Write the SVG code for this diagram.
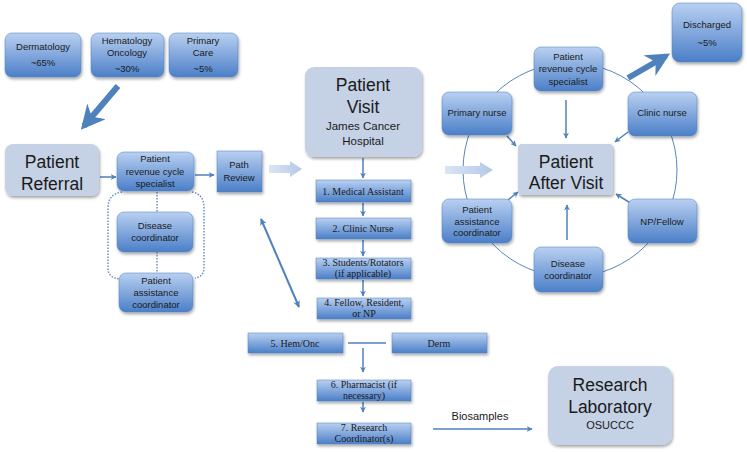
<svg xmlns="http://www.w3.org/2000/svg" width="747" height="452" viewBox="0 0 747 452">
<defs>
<linearGradient id="gb" x1="0" y1="0" x2="0" y2="1">
<stop offset="0" stop-color="#b9d0f1"/>
<stop offset="1" stop-color="#4b7fc8"/>
</linearGradient>
<linearGradient id="gl" x1="0" y1="0" x2="1" y2="0">
<stop offset="0" stop-color="#dbe5f4"/>
<stop offset="1" stop-color="#b3c8e8"/>
</linearGradient>
<filter id="sh" x="-20%" y="-20%" width="150%" height="150%">
<feDropShadow dx="1" dy="2" stdDeviation="1.5" flood-color="#000" flood-opacity="0.35"/>
</filter>
<marker id="ah" viewBox="0 0 10 10" refX="9" refY="5" markerWidth="7" markerHeight="7" markerUnits="userSpaceOnUse" orient="auto-start-reverse">
<path d="M0,0 L10,5 L0,10 L3,5 Z" fill="#4f81bd"/>
</marker>
<marker id="ahs" viewBox="0 0 10 10" refX="9" refY="5" markerWidth="6" markerHeight="6" markerUnits="userSpaceOnUse" orient="auto-start-reverse">
<path d="M0,0 L10,5 L0,10 L3,5 Z" fill="#4f81bd"/>
</marker>
<marker id="big" viewBox="0 0 10 10" refX="8" refY="5" markerWidth="4" markerHeight="4" orient="auto">
<path d="M0,0 L10,5 L0,10 L3,5 Z" fill="#4f81bd"/>
</marker>
</defs>
<style>
.b{fill:url(#gb);stroke:#4f81bd;stroke-width:0.5;filter:url(#sh)}
.g{fill:#c5d1e5;filter:url(#sh)}
.s{fill:url(#gb);stroke:#4f81bd;stroke-width:0.5;filter:url(#sh)}
.t{font-family:"Liberation Sans",Arial,sans-serif;font-size:9.5px;fill:#1a1a1a;text-anchor:middle}
.L{font-family:"Liberation Sans",Arial,sans-serif;font-size:17.5px;fill:#1a1a1a;text-anchor:middle}
.m{font-family:"Liberation Sans",Arial,sans-serif;font-size:11.5px;fill:#1a1a1a;text-anchor:middle}
.r{font-family:"Liberation Serif","Times New Roman",serif;font-size:10px;fill:#1a1a1a;text-anchor:middle}
.c{stroke:#4f81bd;stroke-width:1.5;fill:none}
.d{stroke:#6d8fbf;stroke-width:1.5;fill:none;stroke-dasharray:1.5 1.5}
.w{fill:url(#gl)}
</style>

<g id="circle"><circle cx="570" cy="170" r="107" fill="none" stroke="#5b84bd" stroke-width="1"/></g>

<g id="connectors">
<line x1="118" y1="86" x2="84" y2="126" stroke="#4f81bd" stroke-width="6" marker-end="url(#big)"/>
<line class="c" x1="100" y1="177" x2="116" y2="177" marker-end="url(#ahs)"/>
<line class="c" x1="195" y1="175" x2="214" y2="175" marker-end="url(#ahs)"/>
<path class="d" d="M122,192 Q108,194 108,208 L108,268 Q108,278 120,279"/>
<path class="d" d="M192,192 Q204,194 204,208 L204,267 Q204,277 195,278"/>
<line class="d" x1="157" y1="192" x2="157" y2="212"/>
<line class="d" x1="157" y1="252" x2="157" y2="273"/>
<path class="w" d="M269,165 L290,165 L290,161 L302,169 L290,177 L290,173 L269,173 Z"/>
<line x1="261" y1="219" x2="299" y2="307" stroke="#4f81bd" stroke-width="2" marker-start="url(#ah)" marker-end="url(#ah)"/>
<line class="c" x1="363" y1="158" x2="363" y2="178" marker-end="url(#ahs)"/>
<line class="c" x1="363" y1="203" x2="363" y2="216" marker-end="url(#ahs)"/>
<line class="c" x1="363" y1="240" x2="363" y2="256" marker-end="url(#ahs)"/>
<line class="c" x1="363" y1="280" x2="363" y2="296" marker-end="url(#ahs)"/>
<line class="c" x1="348" y1="343" x2="386" y2="343"/>
<line class="c" x1="363" y1="348" x2="363" y2="372" marker-end="url(#ahs)"/>
<line class="c" x1="363" y1="402" x2="363" y2="412" marker-end="url(#ahs)"/>
<line class="c" x1="433" y1="429" x2="532" y2="429" marker-end="url(#ahs)"/>
<path class="w" d="M445,166 L480,166 L480,162 L493,170 L480,178 L480,174 L445,174 Z"/>
<line class="c" x1="566" y1="100" x2="566" y2="138" marker-end="url(#ahs)"/>
<line class="c" x1="507" y1="136" x2="516" y2="146" marker-end="url(#ahs)"/>
<line class="c" x1="628" y1="132" x2="615" y2="142" marker-end="url(#ahs)"/>
<line class="c" x1="632" y1="204" x2="616" y2="194" marker-end="url(#ahs)"/>
<line class="c" x1="508" y1="200" x2="518" y2="192" marker-end="url(#ahs)"/>
<line class="c" x1="567" y1="240" x2="567" y2="205" marker-end="url(#ahs)"/>
<line x1="628" y1="78" x2="666" y2="56" stroke="#4f81bd" stroke-width="6" marker-end="url(#big)"/>
</g>

<g id="dermatology"><rect class="b" x="5" y="33" width="76" height="44" rx="7"/><text class="t" x="43" y="50">Dermatology</text><text class="t" x="43" y="66">~65%</text></g>
<g id="hemonc"><rect class="b" x="91" y="33" width="73" height="44" rx="7"/><text class="t" x="127" y="44">Hematology</text><text class="t" x="127" y="56">Oncology</text><text class="t" x="127" y="72">~30%</text></g>
<g id="primarycare"><rect class="b" x="169" y="33" width="69" height="44" rx="7"/><text class="t" x="203" y="44">Primary</text><text class="t" x="203" y="56">Care</text><text class="t" x="203" y="72">~5%</text></g>

<g id="patientreferral"><rect class="g" x="5" y="144" width="94" height="52" rx="8"/><text class="L" x="52" y="168">Patient</text><text class="L" x="52" y="190">Referral</text></g>
<g id="revspec"><rect class="b" x="117" y="152" width="77" height="39" rx="7"/><text class="t" x="155" y="162">Patient</text><text class="t" x="155" y="175">revenue cycle</text><text class="t" x="155" y="187">specialist</text></g>
<g id="pathreview"><rect class="s" x="217" y="151" width="45" height="41"/><text class="t" x="239" y="168">Path</text><text class="t" x="239" y="181">Review</text></g>
<g id="diseasecoord"><rect class="b" x="117" y="212" width="76" height="40" rx="7"/><text class="t" x="155" y="229">Disease</text><text class="t" x="155" y="241">coordinator</text></g>
<g id="patassist"><rect class="b" x="119" y="273" width="74" height="39" rx="7"/><text class="t" x="156" y="284">Patient</text><text class="t" x="156" y="296">assistance</text><text class="t" x="156" y="308">coordinator</text></g>

<g id="patientvisit"><rect class="g" x="305" y="67" width="117" height="90" rx="9"/><text class="L" x="363" y="91">Patient</text><text class="L" x="363" y="113">Visit</text><text class="m" x="363" y="130">James Cancer</text><text class="m" x="363" y="145">Hospital</text></g>
<g id="step1"><rect class="s" x="316" y="180" width="95" height="22"/><text class="r" x="363" y="195">1. Medical Assistant</text></g>
<g id="step2"><rect class="s" x="316" y="218" width="95" height="21"/><text class="r" x="363" y="232">2. Clinic Nurse</text></g>
<g id="step3"><rect class="s" x="316" y="258" width="95" height="21"/><text class="r" x="363" y="266">3. Students/Rotators</text><text class="r" x="363" y="277">(if applicable)</text></g>
<g id="step4"><rect class="s" x="317" y="298" width="94" height="21"/><text class="r" x="364" y="306">4. Fellow, Resident,</text><text class="r" x="364" y="317">or NP</text></g>
<g id="step5"><rect class="s" x="248" y="333" width="95" height="20"/><text class="r" x="295" y="347">5. Hem/Onc</text></g>
<g id="derm"><rect class="s" x="392" y="333" width="95" height="20"/><text class="r" x="439" y="347">Derm</text></g>
<g id="step6"><rect class="s" x="317" y="380" width="94" height="21"/><text class="r" x="364" y="388">6. Pharmacist (if</text><text class="r" x="364" y="399">necessary)</text></g>
<g id="step7"><rect class="s" x="317" y="423" width="94" height="21"/><text class="r" x="364" y="431">7. Research</text><text class="r" x="364" y="442">Coordinator(s)</text></g>

<text class="m" x="480" y="420" style="font-size:11px">Biosamples</text>
<g id="researchlab"><rect class="g" x="548" y="366" width="124" height="79" rx="10"/><text class="L" x="610" y="391">Research</text><text class="L" x="610" y="413">Laboratory</text><text class="m" x="610" y="429" style="font-size:11px">OSUCCC</text></g>

<g id="discharged"><rect class="b" x="672" y="3" width="70" height="59" rx="8"/><text class="t" x="707" y="28">Discharged</text><text class="t" x="707" y="46">~5%</text></g>
<g id="revspec2"><rect class="b" x="534" y="47" width="69" height="44" rx="7"/><text class="t" x="568" y="60">Patient</text><text class="t" x="568" y="72">revenue cycle</text><text class="t" x="568" y="85">specialist</text></g>
<g id="primarynurse"><rect class="b" x="442" y="92" width="70" height="43" rx="7"/><text class="t" x="477" y="116">Primary nurse</text></g>
<g id="clinicnurse"><rect class="b" x="628" y="92" width="69" height="44" rx="7"/><text class="t" x="662" y="116">Clinic nurse</text></g>
<g id="patientaftervisit"><rect class="g" x="518" y="144" width="95" height="51" rx="4"/><text class="L" x="566" y="168">Patient</text><text class="L" x="566" y="189">After Visit</text></g>
<g id="patassist2"><rect class="b" x="442" y="199" width="70" height="44" rx="7"/><text class="t" x="477" y="213">Patient</text><text class="t" x="477" y="225">assistance</text><text class="t" x="477" y="236">coordinator</text></g>
<g id="npfellow"><rect class="b" x="628" y="199" width="69" height="44" rx="7"/><text class="t" x="662" y="225">NP/Fellow</text></g>
<g id="diseasecoord2"><rect class="b" x="534" y="247" width="69" height="45" rx="7"/><text class="t" x="568" y="267">Disease</text><text class="t" x="568" y="279">coordinator</text></g>
</svg>
